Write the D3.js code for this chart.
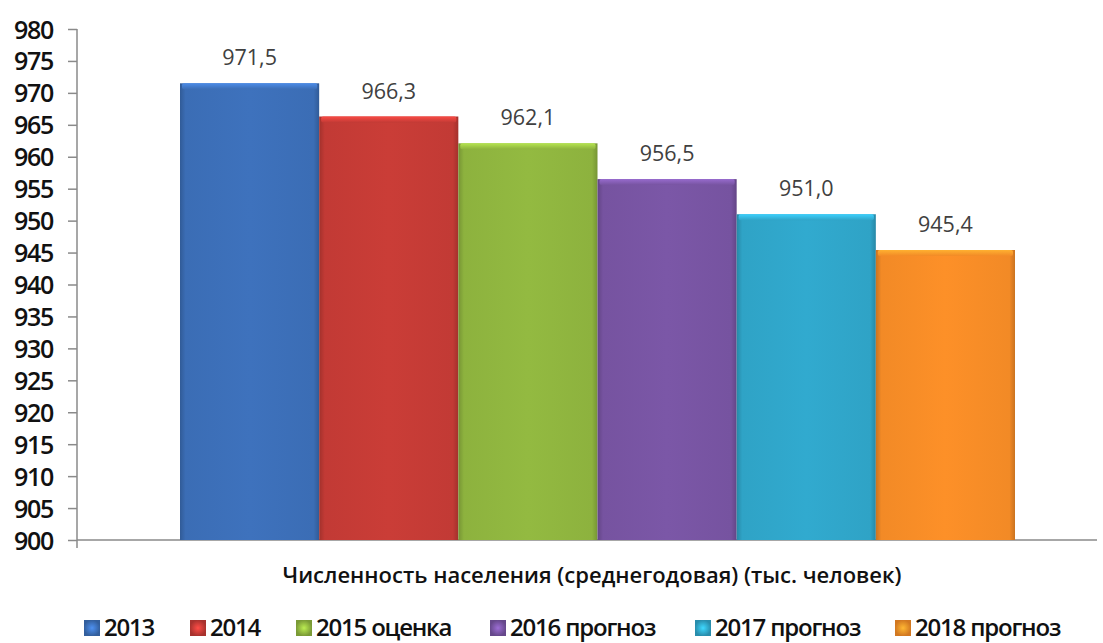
<!DOCTYPE html>
<html><head><meta charset="utf-8">
<script src="https://cdn.jsdelivr.net/npm/d3@7"></script>
<style>body{margin:0;background:#fff;} svg{display:block;}</style>
</head><body>
<svg id="c" width="1103" height="643"></svg>
<script>
const series = ["2013", "2014", "2015 оценка", "2016 прогноз", "2017 прогноз", "2018 прогноз"];
const values = [971.5, 966.3, 962.1, 956.5, 951.0, 945.4];
const valueLabels = ["971,5", "966,3", "962,1", "956,5", "951,0", "945,4"];
const yTicks = [900,905,910,915,920,925,930,935,940,945,950,955,960,965,970,975,980];
const category = "Численность населения (среднегодовая) (тыс. человек)";
const colors = ["#3B6DB5", "#C23A35", "#8DB23E", "#7653A0", "#2FA3C6", "#F28A26"];

const svg = d3.select("#c");
const L = 77, R = 1097, T = 29, B = 540;
const y = d3.scaleLinear().domain([900, 980]).range([B, T]);
const x = d3.scaleBand().domain(series).range([180, 1015]).padding(0);

const defs = svg.append("defs");
colors.forEach((c, i) => {
  const g = defs.append("linearGradient").attr("id", "g" + i).attr("x1", 0).attr("x2", 1).attr("y1", 0).attr("y2", 0);
  const dk = d3.color(c).darker(0.5), lt = d3.color(c).brighter(0.12);
  g.append("stop").attr("offset", "0%").attr("stop-color", dk);
  g.append("stop").attr("offset", "4%").attr("stop-color", c);
  g.append("stop").attr("offset", "50%").attr("stop-color", lt);
  g.append("stop").attr("offset", "96%").attr("stop-color", c);
  g.append("stop").attr("offset", "100%").attr("stop-color", dk);
  const h = defs.append("linearGradient").attr("id", "h" + i).attr("x1", 0).attr("x2", 0).attr("y1", 0).attr("y2", 1);
  h.append("stop").attr("offset", "0%").attr("stop-color", d3.color(c).brighter(0.7));
  h.append("stop").attr("offset", "100%").attr("stop-color", c);
  const lg = defs.append("radialGradient").attr("id", "l" + i);
  lg.append("stop").attr("offset", "0%").attr("stop-color", d3.color(c).brighter(0.8));
  lg.append("stop").attr("offset", "100%").attr("stop-color", d3.color(c).darker(0.4));
});

// axes
const ya = svg.append("g").attr("transform", `translate(${L},0)`)
  .call(d3.axisLeft(y).tickValues(yTicks).tickSize(9).tickPadding(15).tickFormat(d3.format("d")));
ya.select(".domain").remove();
ya.selectAll(".tick line").attr("stroke", "#8a8a8a").attr("stroke-width", 1.5);
ya.selectAll(".tick text").attr("fill", "#111").attr("dy", "0.36em").style("font-family", "'Open Sans', sans-serif")
  .style("font-size", "25px").style("font-weight", "600").style("letter-spacing", "-1.3px");
svg.append("line").attr("x1", L).attr("x2", L).attr("y1", T).attr("y2", B + 8).attr("stroke", "#8a8a8a").attr("stroke-width", 1.5);
svg.append("line").attr("x1", L).attr("x2", R).attr("y1", B).attr("y2", B).attr("stroke", "#8a8a8a").attr("stroke-width", 1.5);

// bars
const bars = svg.append("g");
series.forEach((s, i) => {
  const x0 = x(s), w = x.bandwidth(), y0 = y(values[i]);
  bars.append("rect").attr("x", x0).attr("y", y0).attr("width", w).attr("height", B - y0).attr("fill", `url(#g${i})`);
  bars.append("rect").attr("x", x0 + 2).attr("y", y0).attr("width", w - 4).attr("height", 6).attr("fill", `url(#h${i})`).attr("rx", 2);
  svg.append("text").attr("x", x0 + w / 2).attr("y", y0 - 18).attr("text-anchor", "middle")
    .attr("fill", "#404040").style("font-family", "'Open Sans', sans-serif").style("font-size", "21.5px")
    .text(valueLabels[i]);
});

// category title
svg.append("text").attr("x", 592).attr("y", 583).attr("text-anchor", "middle").attr("fill", "#111")
  .style("font-family", "'Open Sans', sans-serif").style("font-size", "22px").style("font-weight", "600")
  .text(category);

// legend
const legX = [84, 190, 296, 490, 695, 895];
series.forEach((s, i) => {
  svg.append("rect").attr("x", legX[i]).attr("y", 620).attr("width", 16).attr("height", 16).attr("fill", `url(#l${i})`);
  svg.append("text").attr("x", legX[i] + 20).attr("y", 636).attr("fill", "#111")
    .style("font-family", "'Open Sans', sans-serif").style("font-size", "24px").style("font-weight", "600")
    .style("letter-spacing", "-1.2px").text(s);
});
</script>
</body></html>
